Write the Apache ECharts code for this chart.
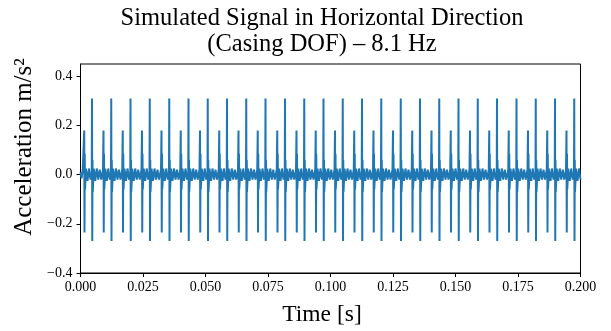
<!DOCTYPE html>
<html>
<head>
<meta charset="utf-8">
<script src="https://cdn.jsdelivr.net/npm/echarts@6/dist/echarts.min.js"></script>
<style>
  html, body { margin: 0; padding: 0; background: #fff; }
  #chart { width: 611px; height: 331px; }
</style>
</head>
<body>
<div id="chart"></div>
<script>
// times of the tall impulses (s)
const impulseTimes = [
  0.0046, 0.0123, 0.0200, 0.0277, 0.0355, 0.0432, 0.0509, 0.0586, 0.0663,
  0.0740, 0.0818, 0.0895, 0.0972, 0.1049, 0.1126, 0.1203, 0.1281, 0.1358,
  0.1435, 0.1512, 0.1589, 0.1666, 0.1744, 0.1821, 0.1898, 0.1975
];

// one cycle of the waveform around a tall impulse (time offset in s, acceleration in m/s^2)
const cycleOffsets = [
  -0.0033, -0.0031, -0.0030, -0.0029, -0.0028, -0.0024, -0.0018, -0.0012,
  -0.0006, -0.0001, 0.0000, 0.0001, 0.0002, 0.0003, 0.0007, 0.0013,
  0.0019, 0.0025, 0.0031, 0.0037
];
const cycleValues = [
  0.02, 0.18, -0.235, 0.085, -0.06, 0.025, -0.025, 0.025,
  -0.02, 0.01, 0.31, -0.27, 0.06, -0.07, 0.025, -0.025,
  0.025, -0.02, 0.02, -0.02
];

// signal before the first cycle
const leadTimes = [0.0000, 0.0004, 0.0009];
const leadValues = [0.01, -0.015, 0.02];

const xTicks = [0, 0.025, 0.05, 0.075, 0.1, 0.125, 0.15, 0.175, 0.2];
const yTicks = [-0.4, -0.2, 0.0, 0.2, 0.4];

const T_MAX = 0.2;

const signal = leadTimes.map((t, i) => [t, leadValues[i]]);
impulseTimes.forEach((t0) => {
  cycleOffsets.forEach((dt, i) => {
    const t = +(t0 + dt).toFixed(5);
    if (t >= 0 && t <= T_MAX) signal.push([t, cycleValues[i]]);
  });
});

const serif = '"Liberation Serif", "DejaVu Serif", serif';
const fmtMinus = (s) => s.replace('-', '\u2212');

const chart = echarts.init(document.getElementById('chart'), null, { renderer: 'canvas' });

const option = {
  animation: false,
  backgroundColor: '#fff',
  grid: {
    left: 80.5,
    top: 64,
    width: 500,
    height: 209,
    show: true,
    borderColor: '#000',
    borderWidth: 1,
  },
  title: {
    text: 'Simulated Signal in Horizontal Direction\n(Casing DOF) \u2013 8.1 Hz',
    left: 322,
    top: 5,
    padding: 0,
    textAlign: 'center',
    textStyle: {
      fontFamily: serif,
      fontSize: 24.5,
      fontWeight: 'normal',
      color: '#000',
      lineHeight: 26.5,
    },
  },
  graphic: [
    {
      type: 'text',
      x: 24,
      y: 147,
      rotation: Math.PI / 2,
      style: {
        text: 'Acceleration m/s\u00B2',
        font: '25px ' + serif,
        fill: '#000',
        align: 'center',
        verticalAlign: 'middle',
      },
    },
    {
      type: 'text',
      x: 322,
      y: 315,
      style: {
        text: 'Time [s]',
        font: '23.5px ' + serif,
        fill: '#000',
        align: 'center',
        verticalAlign: 'middle',
      },
    },
  ],
  xAxis: {
    type: 'value',
    min: 0,
    max: T_MAX,
    interval: 0.025,
    axisLine: { show: true, onZero: false, lineStyle: { color: '#000', width: 1 } },
    axisTick: { show: true, inside: false, length: 4, lineStyle: { color: '#000' }, customValues: xTicks },
    axisLabel: {
      fontFamily: serif,
      fontSize: 14,
      color: '#000',
      margin: 7,
      customValues: xTicks,
      formatter: (v) => v.toFixed(3),
    },
    splitLine: { show: false },
  },
  yAxis: {
    type: 'value',
    min: -0.4,
    max: 0.45,
    axisLine: { show: true, onZero: false, lineStyle: { color: '#000', width: 1 } },
    axisTick: { show: true, inside: false, length: 4, lineStyle: { color: '#000' }, customValues: yTicks },
    axisLabel: {
      fontFamily: serif,
      fontSize: 14,
      color: '#000',
      margin: 8,
      customValues: yTicks,
      formatter: (v) => fmtMinus(v.toFixed(1)),
    },
    splitLine: { show: false },
  },
  series: [
    {
      type: 'line',
      data: signal,
      showSymbol: false,
      symbol: 'none',
      clip: true,
      lineStyle: { color: '#1f77b4', width: 2 },
    },
  ],
};

chart.setOption(option);

const handleResize = () => chart.resize();
window.addEventListener('resize', handleResize);
</script>
</body>
</html>
